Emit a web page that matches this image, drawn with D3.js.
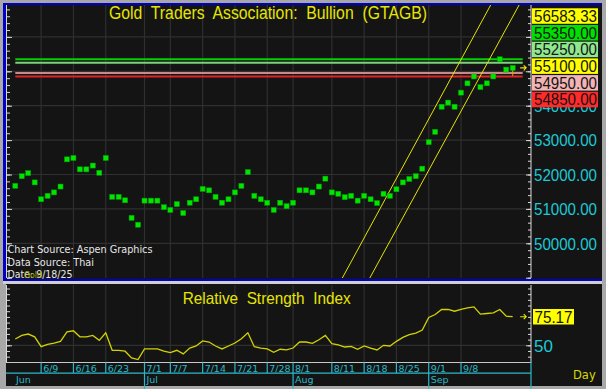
<!DOCTYPE html>
<html><head><meta charset="utf-8">
<script src="https://cdn.jsdelivr.net/npm/d3@7"></script>
<style>html,body{margin:0;padding:0;background:#a8a8a8;overflow:hidden}svg{display:block}</style>
</head><body><svg id="c" width="606" height="389"></svg>
<script>
// ---------- DATA ----------
const junDays=[3,4,5,6,9,10,11,12,13,16,17,18,19,20,23,24,25,26,27,30];
const julDays=[1,2,3,4,7,8,9,10,11,14,15,16,17,18,21,22,23,24,25,28,29,30,31];
const augDays=[1,4,5,6,7,8,11,12,13,14,15,18,19,20,21,22,25,26,27,28,29];
const sepDays=[1,2,3,4,5,8,9,10,11,12,15,16,17,18];
const dates=[...junDays.map(d=>"6/"+d),...julDays.map(d=>"7/"+d),...augDays.map(d=>"8/"+d),...sepDays.map(d=>"9/"+d)];
const prices=[51670,51950,52040,51770,51280,51380,51480,51650,52440,52480,
 52150,52150,52260,52050,52480,51350,51350,51250,50740,50540,
 51240,51240,51240,51050,50970,51140,50880,51180,51280,51580,
 51540,51350,51180,51280,51480,51670,52070,51380,51280,51180,
 50970,51180,51080,51180,51540,51540,51480,51650,51880,51480,
 51440,51340,51380,51240,51380,51280,51170,51440,51380,51570,
 51770,51870,51950,52170,52940,53240,53970,54090,53970,54380,
 54650,54850,54540,54650,54850,55350,55050,55100];
const rsi=[55.5,58.7,59.9,57.5,48.8,50.9,52.0,53.5,61.9,62.8,
 57.5,57.5,58.7,54.4,61.0,45.6,45.6,44.8,38.9,37.4,
 46.8,46.8,46.8,44.8,43.6,45.6,42.4,47.6,49.4,53.8,
 52.9,49.4,46.8,49.4,52.0,55.8,61.0,48.8,47.6,46.8,
 43.9,46.5,45.9,47.6,52.9,52.9,51.7,54.9,58.7,51.4,
 50.3,48.5,49.1,46.5,49.4,47.6,45.9,50.0,49.4,53.5,
 57.0,59.3,60.8,63.4,74.5,77.1,81.5,81.7,80.0,81.7,
 82.9,83.8,77.4,78.0,78.5,81.5,75.6,75.17];
const weekTicks=["6/9","6/16","6/23","7/1","7/7","7/14","7/21","7/28","8/1","8/11","8/18","8/25","9/1","9/8"];
const monthTicks=[{label:"Jun",date:"6/3",line:false},{label:"Jul",date:"7/1",line:true},{label:"Aug",date:"8/1",line:true},{label:"Sep",date:"9/1",line:true}];
const priceGrid=[50000,51000,52000,53000,54000,55000,56000];
const priceTickLabels=[50000,51000,52000,53000,54000];
const levels=[55350,55250,54950,54850];
const levelColors=["#00d200","#7fcf7f","#c88a8a","#e02424"];
const priceLabels=["56583.33","55350.00","55250.00","55100.00","54950.00","54850.00"];
const priceLabelColors=["#ffff00","#00e000","#8fe88f","#ffff00","#f2b4b4","#ff2a2a"];
const lastPrice=55100;
const lastRsi=75.17;
const rsiTicksLabel=[50];
// channel lines as [index, price] end points
const channel=[[[50.45,48930],[73.6,56930]],[[54.7,48930],[78.0,56930]]];

// ---------- LAYOUT ----------
const svg=d3.select("#c");
const P={x0:7,x1:531,y0:5,y1:278};
const R={y0:285,y1:362};
const x=d3.scaleLinear().domain([0,dates.length-1]).range([15.3,512.7]);
const xi=d=>x(dates.indexOf(d));
const yP=d3.scaleLinear().domain([50000,53000]).range([243.3,140.1]);
const yR=d3.scaleLinear().domain([50,75.17]).range([345.3,316.7]);
const FONT="'Liberation Sans',Arial,sans-serif";
const CYAN="#1ec8d4", GRID="#2f2f2f";

// backgrounds
svg.append("rect").attr("width",606).attr("height",389).attr("fill","#a8a8a8");
svg.append("rect").attr("x",6).attr("y",3).attr("width",596).attr("height",277).attr("fill","#141414");
svg.append("rect").attr("x",3).attr("y",3).attr("width",599).attr("height",2).attr("fill","#0000c8");
svg.append("rect").attr("x",3).attr("y",3).attr("width",3).attr("height",278).attr("fill","#0000c8");
svg.append("rect").attr("x",3).attr("y",279).attr("width",599).attr("height",2).attr("fill","#0000c8");
svg.append("rect").attr("x",3).attr("y",281).attr("width",599).attr("height",3).attr("fill","#d0d0d0");
svg.append("rect").attr("x",6).attr("y",284).attr("width",596).attr("height",102).attr("fill","#141414");

// ---------- PRICE PANEL ----------
svg.append("clipPath").attr("id","pc").append("rect").attr("x",P.x0).attr("y",P.y0).attr("width",P.x1-P.x0).attr("height",P.y1-P.y0);
const gp=svg.append("g").attr("clip-path","url(#pc)");
gp.selectAll(".hg").data(priceGrid).join("line").attr("x1",P.x0).attr("x2",P.x1)
 .attr("y1",d=>yP(d)).attr("y2",d=>yP(d)).attr("stroke",GRID).attr("stroke-width",1.2);
gp.selectAll(".vg").data(weekTicks).join("line").attr("x1",xi).attr("x2",xi)
 .attr("y1",P.y0).attr("y2",P.y1).attr("stroke",GRID).attr("stroke-width",1.2);

// level lines
gp.selectAll(".lv").data(levels).join("line").attr("x1",x.range()[0]).attr("x2",x.range()[1]+10)
 .attr("y1",d=>yP(d)).attr("y2",d=>yP(d)).attr("stroke",(d,i)=>levelColors[i]).attr("stroke-width",2);

// channel
const ln=d3.line().x(d=>x(d[0])).y(d=>yP(d[1]));
gp.selectAll(".ch").data(channel).join("path").attr("d",ln).attr("fill","none").attr("stroke","#e4e400").attr("stroke-width",1);

// points
gp.selectAll(".pt").data(prices).join("rect").attr("x",(d,i)=>x(i)-2.5).attr("y",d=>yP(d)-2.5)
 .attr("width",5).attr("height",5).attr("fill","#00e600").attr("stroke","#00a000").attr("stroke-width",0.5);
// last price marker
const li=prices.length-1;
svg.append("line").attr("x1",x(li)).attr("x2",x(li)).attr("y1",yP(prices[li])+2.5).attr("y2",yP(prices[li])+8).attr("stroke","#e8a000").attr("stroke-width",1);
function arrow(g,xa,ya){
  g.append("path").attr("d",`M${xa},${ya}H${xa+6}M${xa+3.5},${ya-2.5}L${xa+6},${ya}L${xa+3.5},${ya+2.5}`)
   .attr("fill","none").attr("stroke","#e8e800").attr("stroke-width",1.1);
}
arrow(svg,x(li)+7.5,yP(lastPrice));

// axis lines & ticks (left and right)
const minorP=d3.range(49000,57000,200), majorP=d3.range(49000,57000,1000);
function ticks(sel,scale,vals,size,orient,xp,y0,y1){
  const ax=(orient==="right"?d3.axisRight(scale):d3.axisLeft(scale)).tickValues(vals.filter(v=>scale(v)>=y0&&scale(v)<=y1)).tickSize(size).tickFormat("");
  const g=sel.append("g").attr("transform",`translate(${xp},0)`).call(ax);
  g.select(".domain").remove();
  g.selectAll("line").attr("stroke","#d8d8d8");
}
ticks(svg,yP,minorP,3,"right",7,P.y0,P.y1);
ticks(svg,yP,majorP,5,"right",7,P.y0,P.y1);
ticks(svg,yP,minorP,3,"left",531,P.y0,P.y1);
ticks(svg,yP,majorP,5,"left",531,P.y0,P.y1);
svg.append("line").attr("x1",6.5).attr("x2",6.5).attr("y1",P.y0).attr("y2",P.y1).attr("stroke","#d8d8d8");
svg.append("line").attr("x1",531).attr("x2",531).attr("y1",P.y0).attr("y2",P.y1).attr("stroke","#d8d8d8");

// right price tick labels
svg.selectAll(".pl").data(priceTickLabels).join("text").attr("x",534).attr("y",d=>yP(d)+6.3)
 .attr("font-family",FONT).attr("font-size",17).attr("fill",CYAN)
 .attr("textLength",63).attr("lengthAdjust","spacingAndGlyphs").text(d=>d3.format(".2f")(d));

// stacked label boxes
const bg=svg.selectAll(".bx").data(priceLabels).join("g").attr("transform",(d,i)=>`translate(532,${8.3+i*16.7})`);
bg.append("rect").attr("width",66).attr("height",15.5).attr("fill",(d,i)=>priceLabelColors[i]);
bg.append("text").attr("x",2).attr("y",13.6).attr("font-family",FONT).attr("font-size",17).attr("fill","#141414")
 .attr("textLength",63).attr("lengthAdjust","spacingAndGlyphs").text(d=>d);

// title
svg.append("text").attr("x",109).attr("y",19.3).attr("font-family",FONT).attr("font-size",17.5).attr("fill","#e6e600")
 .attr("textLength",318).attr("lengthAdjust","spacingAndGlyphs").attr("xml:space","preserve")
 .text("Gold  Traders  Association:  Bullion  (GTAGB)");

// footer texts
const FF="Tahoma,'DejaVu Sans',sans-serif";
svg.append("text").attr("x",7.5).attr("y",253.3).attr("font-family",FF).attr("font-size",10.5).attr("fill","#e6e6e6")
 .attr("textLength",145).attr("lengthAdjust","spacingAndGlyphs").text("Chart Source: Aspen Graphics");
svg.append("text").attr("x",7.5).attr("y",266).attr("font-family",FF).attr("font-size",10.5).attr("fill","#e6e6e6")
 .attr("textLength",86.5).attr("lengthAdjust","spacingAndGlyphs").text("Data Source: Thai");
svg.append("text").attr("x",7.5).attr("y",278).attr("font-family",FF).attr("font-size",10.5).attr("fill","#e6e6e6")
 .attr("textLength",65).attr("lengthAdjust","spacingAndGlyphs").text("Date: 9/18/25");
svg.append("text").attr("x",24).attr("y",278).attr("font-family",FF).attr("font-size",8).attr("fill","#a8b400")
 .attr("textLength",18).attr("lengthAdjust","spacingAndGlyphs").text("Gold");

// ---------- RSI PANEL ----------
svg.append("clipPath").attr("id","rc").append("rect").attr("x",P.x0).attr("y",R.y0).attr("width",P.x1-P.x0).attr("height",R.y1-R.y0);
const gr=svg.append("g").attr("clip-path","url(#rc)");
gr.selectAll(".vg").data(weekTicks).join("line").attr("x1",xi).attr("x2",xi)
 .attr("y1",R.y0).attr("y2",R.y1).attr("stroke",GRID).attr("stroke-width",1.2);
gr.append("line").attr("x1",P.x0).attr("x2",P.x1-4).attr("y1",yR(50)).attr("y2",yR(50)).attr("stroke",GRID).attr("stroke-width",1.2);
gr.append("path").datum(rsi).attr("d",d3.line().x((d,i)=>x(i)).y(d=>yR(d))).attr("fill","none").attr("stroke","#d2d200").attr("stroke-width",1.3);
arrow(svg,x(li)+7.5,yR(lastRsi));

const minorR=d3.range(30,105,5);
ticks(svg,yR,minorR,3,"right",7,R.y0,R.y1);
ticks(svg,yR,[50],5,"right",7,R.y0,R.y1);
ticks(svg,yR,minorR,3,"left",531,R.y0,R.y1);
ticks(svg,yR,[50],5,"left",531,R.y0,R.y1);
svg.append("line").attr("x1",6.5).attr("x2",6.5).attr("y1",R.y0).attr("y2",R.y1).attr("stroke","#d8d8d8");
svg.append("line").attr("x1",531).attr("x2",531).attr("y1",R.y0).attr("y2",R.y1).attr("stroke","#d8d8d8");
svg.append("line").attr("x1",6).attr("x2",531.5).attr("y1",R.y1+0.5).attr("y2",R.y1+0.5).attr("stroke","#c8c8c8");

svg.append("text").attr("x",182.7).attr("y",304).attr("font-family",FONT).attr("font-size",16.5).attr("fill","#e6e600")
 .attr("textLength",168).attr("lengthAdjust","spacingAndGlyphs").attr("xml:space","preserve").text("Relative  Strength  Index");

svg.selectAll(".rl").data(rsiTicksLabel).join("text").attr("x",534).attr("y",d=>yR(d)+6.3)
 .attr("font-family",FONT).attr("font-size",17).attr("fill",CYAN).text(d=>d);
const rb=svg.append("g").attr("transform",`translate(533,${yR(lastRsi)-7.7})`);
rb.append("rect").attr("width",41).attr("height",15.5).attr("fill","#ffff00");
rb.append("text").attr("x",1.5).attr("y",13.6).attr("font-family",FONT).attr("font-size",17).attr("fill","#141414")
 .attr("textLength",38).attr("lengthAdjust","spacingAndGlyphs").text(lastRsi.toFixed(2));

// ---------- DATE AXIS ----------
const AX="#2bb8c8";
svg.append("line").attr("x1",6).attr("x2",531).attr("y1",373.2).attr("y2",373.2).attr("stroke",AX).attr("stroke-width",1.2);
svg.append("line").attr("x1",531).attr("x2",531).attr("y1",362).attr("y2",389).attr("stroke",AX).attr("stroke-width",1.2);
svg.selectAll(".wt").data(weekTicks).join("line").attr("x1",xi).attr("x2",xi).attr("y1",362.5)
 .attr("y2",d=>monthTicks.some(m=>m.line&&m.date===d)?389:373).attr("stroke",AX).attr("stroke-width",1.2);
svg.selectAll(".wl").data(weekTicks).join("text").attr("x",d=>xi(d)+2).attr("y",371.5)
 .attr("font-family",FF).attr("font-size",9.5).attr("fill",AX).text(d=>d);
svg.selectAll(".ml").data(monthTicks).join("text").attr("x",d=>d.line?xi(d.date)+2:16).attr("y",383)
 .attr("font-family",FF).attr("font-size",9.5).attr("fill",AX).text(d=>d.label);
svg.append("text").attr("x",573).attr("y",379).attr("font-family",FF).attr("font-size",11.5).attr("fill","#d8d800").text("Day");
</script></body></html>
